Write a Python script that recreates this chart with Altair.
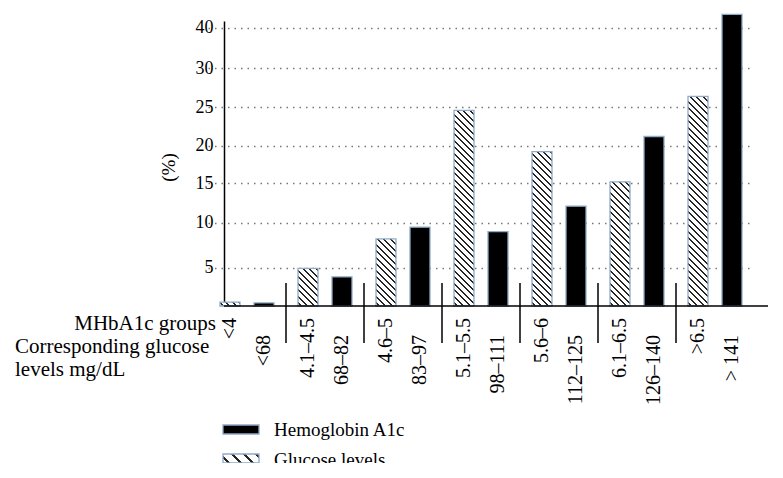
import altair as alt
import numpy as np

# ---- data ----
hba1c_groups = ["<4", "4.1–4.5", "4.6–5", "5.1–5.5", "5.6–6", "6.1–6.5", ">6.5"]
glucose_ranges = ["<68", "68–82", "83–97", "98–111", "112–125", "126–140", "> 141"]
glucose_levels_pct = [0.5, 4.9, 8.2, 24.6, 19.2, 15.2, 26.4]
hemoglobin_pct = [0.4, 3.8, 9.5, 9.0, 12.1, 21.2, 43.2]
y_ticks = [5, 10, 15, 20, 25, 30, 40]
series_names = ["Glucose levels", "Hemoglobin A1c"]
legend_labels = ["Hemoglobin A1c", "Glucose levels"]
captions = ["MHbA1c groups", "Corresponding glucose", "levels mg/dL"]

# ---- layout / style ----
W, H = 544, 292
FONT = "Liberation Serif"
EDGE = "#8eaac6"
INK = "#262626"
Y_DOMAIN = [0, 5, 10, 15, 20, 25, 30, 40, 41.6]
Y_RANGE = [292, 253.7, 208.7, 169.3, 131.7, 93.3, 54.3, 13.7, 7]
X_RANGE = [-16, 530]
OFF_PI, OFF_PO = 0.412, 0.353
step = (X_RANGE[1] - X_RANGE[0]) / len(hba1c_groups)
bar_w = step / (2 - OFF_PI + 2 * OFF_PO) * (1 - OFF_PI)


def ypix(v):
    d, r = Y_DOMAIN, Y_RANGE
    if v > d[-1]:
        return r[-1] + (v - d[-1]) * (r[-1] - r[-2]) / (d[-1] - d[-2])
    return float(np.interp(v, d, r))


def hatch(w, h, spacing, lw, ink=INK, paper="white"):
    total = w + h
    k = total / (w * w + h * h)
    stops = [{"offset": 0, "color": paper}]
    pos = spacing / 2
    while pos < total:
        a = max(0.0, (pos - lw / 2) / total)
        b = min(1.0, (pos + lw / 2) / total)
        stops += [{"offset": a, "color": paper}, {"offset": a, "color": ink},
                  {"offset": b, "color": ink}, {"offset": b, "color": paper}]
        pos += spacing
    stops.append({"offset": 1, "color": paper})
    return {"gradient": "linear", "x1": 0, "y1": 1, "x2": k * w, "y2": 1 - k * h,
            "stops": stops}


records = []
for i, g in enumerate(hba1c_groups):
    gv = glucose_levels_pct[i]
    records.append({"group": g, "series": series_names[0], "pct": gv,
                    "label": hba1c_groups[i],
                    "paint": hatch(bar_w, ypix(0) - ypix(gv), 6.5, 2.0)})
    records.append({"group": g, "series": series_names[1], "pct": hemoglobin_pct[i],
                    "label": glucose_ranges[i], "paint": "black"})
bars_data = alt.Data(values=records)

x_enc = alt.X("group:N", scale=alt.Scale(domain=hba1c_groups, range=X_RANGE,
                                         paddingInner=0, paddingOuter=0), axis=None)
xoff_enc = alt.XOffset("series:N", scale=alt.Scale(domain=series_names,
                                                   paddingInner=OFF_PI, paddingOuter=OFF_PO))
y_scale = alt.Scale(domain=Y_DOMAIN, range=Y_RANGE, nice=False, zero=False)

bars = alt.Chart(bars_data).mark_bar(stroke=EDGE, strokeWidth=1.3).encode(
    x=x_enc,
    xOffset=xoff_enc,
    y=alt.Y("pct:Q", scale=y_scale, axis=alt.Axis(
        values=y_ticks, ticks=False, labelPadding=11, labelFont=FONT, labelFontSize=18,
        labelColor="black", domainColor="black", domainWidth=1.5,
        grid=True, gridDash=[1.5, 5], gridColor="#777777", gridWidth=1.5,
        title="(%)", titleFont=FONT, titleFontSize=19, titleFontWeight="normal",
        titleColor="black", titleX=-56, titleY=153, titleAngle=270,
        titleAlign="center", titleBaseline="middle")),
    fill=alt.Fill("paint:N", scale=None),
)

lab_g = alt.Chart(bars_data).transform_filter(
    alt.datum.series == series_names[0]).mark_text(
    angle=270, align="right", baseline="middle", font=FONT, fontSize=20, color="black"
).encode(x=x_enc, xOffset=xoff_enc, text="label:N", y=alt.value(304))

lab_h = alt.Chart(bars_data).transform_filter(
    alt.datum.series == series_names[1]).mark_text(
    angle=270, align="right", baseline="middle", font=FONT, fontSize=20, color="black"
).encode(x=x_enc, xOffset=xoff_enc, text="label:N", y=alt.value(321))

div_data = alt.Data(values=[{"group": g} for g in hba1c_groups[1:]])
dividers = alt.Chart(div_data).mark_rule(color="black", strokeWidth=1.5).encode(
    x=alt.X("group:N", bandPosition=0, scale=alt.Scale(domain=hba1c_groups, range=X_RANGE,
                                                      paddingInner=0, paddingOuter=0), axis=None),
    y=alt.value(269), y2=alt.value(329))

baseline = alt.Chart(alt.Data(values=[{"v": 0}])).mark_rule(
    color="black", strokeWidth=1.5).encode(
    x=alt.value(0), x2=alt.value(W), y=alt.value(H))

cap_data = alt.Data(values=[{"t": c} for c in captions])
cap1 = alt.Chart(cap_data).transform_filter(alt.datum.t == captions[0]).mark_text(
    align="right", baseline="alphabetic", font=FONT, fontSize=21, color="black"
).encode(text="t:N", x=alt.value(-8), y=alt.value(316))
cap2 = alt.Chart(cap_data).transform_filter(alt.datum.t == captions[1]).mark_text(
    align="left", baseline="alphabetic", font=FONT, fontSize=21, color="black"
).encode(text="t:N", x=alt.value(-209), y=alt.value(339))
cap3 = alt.Chart(cap_data).transform_filter(alt.datum.t == captions[2]).mark_text(
    align="left", baseline="alphabetic", font=FONT, fontSize=21, color="black"
).encode(text="t:N", x=alt.value(-209), y=alt.value(362))

leg_data = alt.Data(values=[{"name": n} for n in legend_labels])
leg_h_box = alt.Chart(leg_data).transform_filter(alt.datum.name == legend_labels[0]).mark_rect(
    stroke=EDGE, strokeWidth=1.3).encode(
    x=alt.value(-1), x2=alt.value(35), y=alt.value(411), y2=alt.value(420),
    fill=alt.value("black"))
leg_g_box = alt.Chart(leg_data).transform_filter(alt.datum.name == legend_labels[1]).mark_rect(
    stroke=EDGE, strokeWidth=1.3).encode(
    x=alt.value(-1), x2=alt.value(35), y=alt.value(440), y2=alt.value(449),
    fill=alt.value(hatch(36, 9, 12, 2.6)))
leg_h_txt = alt.Chart(leg_data).transform_filter(alt.datum.name == legend_labels[0]).mark_text(
    align="left", baseline="alphabetic", font=FONT, fontSize=19, color="black").encode(
    text="name:N", x=alt.value(50), y=alt.value(422))
leg_g_txt = alt.Chart(leg_data).transform_filter(alt.datum.name == legend_labels[1]).mark_text(
    align="left", baseline="alphabetic", font=FONT, fontSize=19, color="black").encode(
    text="name:N", x=alt.value(50), y=alt.value(452))

chart = alt.layer(
    bars, dividers, baseline, lab_g, lab_h, cap1, cap2, cap3,
    leg_h_box, leg_g_box, leg_h_txt, leg_g_txt
).properties(
    width=W, height=H,
    autosize=alt.AutoSizeParams(type="none"),
    padding={"left": 216, "top": 6, "right": 7, "bottom": 157},
).configure_view(stroke=None)

chart.save("out.html", embed_options={"renderer": "svg", "actions": False})
